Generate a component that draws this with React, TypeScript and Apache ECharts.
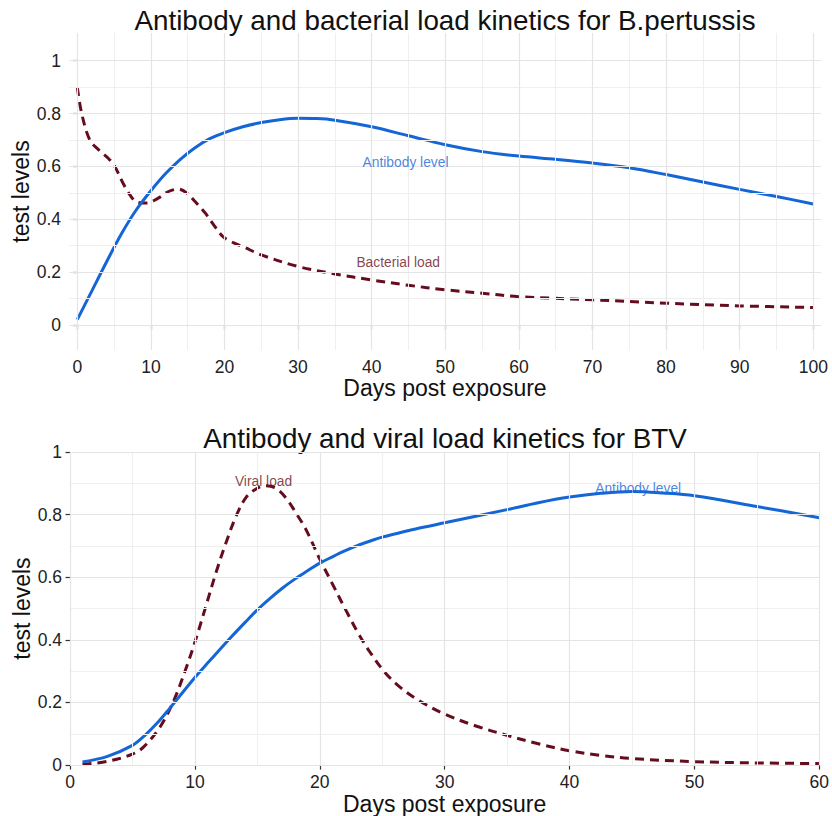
import React, { useEffect, useRef } from "react";
import * as echarts from "echarts";

// ---------- Panel 1: B.pertussis ----------
const bpTitle = "Antibody and bacterial load kinetics for B.pertussis";
const bpAntibodyDays = [0, 2, 4, 6, 8, 10, 12, 14, 16, 18, 20, 22.5, 25, 27.5, 30, 32.5, 35, 40, 45, 50, 55, 60, 65, 70, 75, 80, 85, 90, 95, 100];
const bpAntibodyLevel = [0.02, 0.13, 0.24, 0.345, 0.435, 0.508, 0.573, 0.627, 0.671, 0.705, 0.728, 0.75, 0.766, 0.777, 0.782, 0.781, 0.775, 0.75, 0.716, 0.682, 0.656, 0.639, 0.627, 0.613, 0.595, 0.569, 0.541, 0.513, 0.486, 0.458];
const bpBacterialDays = [0, 0.6, 1.7, 3, 4.2, 5.1, 6.2, 7.2, 8.1, 9.4, 11, 12.4, 13.7, 14.9, 16, 17.4, 18.7, 19.8, 21, 22.6, 25, 30, 35, 40, 45, 50, 55, 60, 70, 80, 90, 100];
const bpBacterialLoad = [0.9, 0.8, 0.7, 0.66, 0.631, 0.6, 0.537, 0.49, 0.465, 0.461, 0.48, 0.505, 0.514, 0.499, 0.467, 0.423, 0.372, 0.334, 0.314, 0.295, 0.265, 0.221, 0.193, 0.17, 0.15, 0.133, 0.12, 0.107, 0.095, 0.082, 0.072, 0.066];
const bpXTicks = [0, 10, 20, 30, 40, 50, 60, 70, 80, 90, 100];
const bpXMinor = [5, 15, 25, 35, 45, 55, 65, 75, 85, 95];
const bpYTicks = [0, 0.2, 0.4, 0.6, 0.8, 1];
const bpYMinor = [0.1, 0.3, 0.5, 0.7, 0.9];
const bpLabels = [
  { name: "Antibody level", x: 44.6, y: 0.615, color: "#1a66d6" },
  { name: "Bacterial load", x: 43.6, y: 0.2375, color: "#681122" },
];

// ---------- Panel 2: BTV ----------
const btvTitle = "Antibody and viral load kinetics for BTV";
const btvAntibodyDays = [1, 3, 5, 6, 7, 8, 9, 10, 11, 12, 13, 14, 15, 16, 17, 18, 19, 20, 21, 22, 23, 24, 25, 26.4, 28, 30, 35, 37.5, 40, 42.5, 45, 47.5, 50, 55, 60];
const btvAntibodyLevel = [0.01, 0.028, 0.063, 0.095, 0.135, 0.182, 0.231, 0.28, 0.325, 0.369, 0.413, 0.455, 0.496, 0.532, 0.565, 0.594, 0.62, 0.645, 0.665, 0.684, 0.701, 0.715, 0.728, 0.742, 0.757, 0.774, 0.816, 0.838, 0.856, 0.868, 0.874, 0.869, 0.86, 0.826, 0.79];
const btvViralDays = [1, 3, 5, 5.9, 7.2, 8.3, 9.3, 10.1, 10.9, 11.7, 12.5, 13.3, 14.1, 14.9, 15.7, 16.5, 17.3, 18.1, 18.9, 20, 21.1, 22.1, 23.1, 24, 25.2, 26.4, 28, 30, 32.5, 35, 37.5, 40, 42.5, 45, 50, 55, 60];
const btvViralLoad = [0.002, 0.012, 0.035, 0.058, 0.121, 0.205, 0.31, 0.405, 0.51, 0.616, 0.711, 0.795, 0.855, 0.882, 0.892, 0.884, 0.853, 0.805, 0.752, 0.658, 0.572, 0.494, 0.42, 0.362, 0.297, 0.25, 0.205, 0.163, 0.125, 0.095, 0.068, 0.046, 0.031, 0.021, 0.011, 0.007, 0.005];
const btvXTicks = [0, 10, 20, 30, 40, 50, 60];
const btvXMinor = [5, 15, 25, 35, 45, 55];
const btvYTicks = [0, 0.2, 0.4, 0.6, 0.8, 1];
const btvYMinor = [0.1, 0.3, 0.5, 0.7, 0.9];
const btvLabels = [
  { name: "Viral load", x: 15.5, y: 0.907, color: "#681122" },
  { name: "Antibody level", x: 45.5, y: 0.885, color: "#1a66d6" },
];

const xName = "Days post exposure";
const yName = "test levels";

const FONT = "'Liberation Sans', Arial, Helvetica, sans-serif";
const BLUE = "#1466d6";
const MAROON = "#650d1f";
const MAJOR = "#e4e4e4";
const MINOR = "#efefef";

const pairs = (xs: number[], ys: number[]) => xs.map((x, i) => [x, ys[i]]);

function gridSeries(idx: number, xMaj: number[], xMin: number[], yMaj: number[], yMin: number[]) {
  const data: any[] = [];
  xMin.forEach((v) => data.push({ xAxis: v, lineStyle: { color: MINOR, width: 1, type: "solid" } }));
  yMin.forEach((v) => data.push({ yAxis: v, lineStyle: { color: MINOR, width: 1, type: "solid" } }));
  xMaj.forEach((v) => data.push({ xAxis: v, lineStyle: { color: MAJOR, width: 1.2, type: "solid" } }));
  yMaj.forEach((v) => data.push({ yAxis: v, lineStyle: { color: MAJOR, width: 1.2, type: "solid" } }));
  return {
    type: "line",
    xAxisIndex: idx,
    yAxisIndex: idx,
    data: [],
    z: 1,
    silent: true,
    markLine: {
      silent: true,
      symbol: ["none", "none"],
      label: { show: false },
      animation: false,
      data,
    },
  };
}

function labelSeries(idx: number, labels: { name: string; x: number; y: number; color: string }[]) {
  return {
    type: "scatter",
    xAxisIndex: idx,
    yAxisIndex: idx,
    symbolSize: 1,
    itemStyle: { color: "transparent" },
    silent: true,
    z: 5,
    data: labels.map((l) => ({
      value: [l.x, l.y],
      name: l.name,
      label: {
        show: true,
        position: "inside",
        formatter: "{b}",
        color: l.color,
        fontSize: 13.8,
        fontFamily: FONT,
      },
    })),
  };
}

function xAxisCfg(idx: number, min: number, max: number, ticks: number[], gap: number) {
  return {
    type: "value",
    gridIndex: idx,
    min,
    max,
    axisLine: { show: false },
    splitLine: { show: false },
    minorSplitLine: { show: false },
    axisTick: { show: true, length: 4.5, customValues: ticks, lineStyle: { color: "#333", width: 1.2 } },
    axisLabel: { customValues: ticks, color: "#222", fontSize: 17.5, fontFamily: FONT, margin: 8 },
    name: xName,
    nameLocation: "middle",
    nameGap: gap,
    nameTextStyle: { color: "#111", fontSize: 23, fontFamily: FONT },
  };
}

function yAxisCfg(idx: number, min: number, max: number, ticks: number[]) {
  return {
    type: "value",
    gridIndex: idx,
    min,
    max,
    axisLine: { show: false },
    splitLine: { show: false },
    minorSplitLine: { show: false },
    axisTick: { show: true, length: 4.5, customValues: ticks, lineStyle: { color: "#333", width: 1.2 } },
    axisLabel: { customValues: ticks, color: "#222", fontSize: 17.5, fontFamily: FONT, margin: 8 },
    name: yName,
    nameLocation: "middle",
    nameGap: 37,
    nameMoveOverlap: false,
    nameTextStyle: { color: "#111", fontSize: 23, fontFamily: FONT },
  };
}

function curve(name: string, idx: number, data: number[][], color: string, dashed: boolean) {
  return {
    name,
    type: "line",
    xAxisIndex: idx,
    yAxisIndex: idx,
    data,
    showSymbol: false,
    smooth: 0.35,
    z: dashed ? 3 : 4,
    lineStyle: { color, width: 3, type: dashed ? [9, 6] : "solid", cap: "butt", join: "round" },
  };
}

export default function App() {
  const ref = useRef<HTMLDivElement>(null);
  useEffect(() => {
    const chart = echarts.init(ref.current!, null, { renderer: "svg" });
    const option: any = {
      animation: false,
      backgroundColor: "#ffffff",
      textStyle: { fontFamily: FONT },
      graphic: [
        {
          type: "text",
          x: 445,
          y: 20,
          silent: true,
          style: { text: bpTitle, fontSize: 27.8, fontFamily: FONT, fill: "#111", align: "center", verticalAlign: "middle" },
        },
        {
          type: "text",
          x: 445,
          y: 438,
          silent: true,
          style: { text: btvTitle, fontSize: 27.8, fontFamily: FONT, fill: "#111", align: "center", verticalAlign: "middle" },
        },
      ],
      grid: [
        { left: 69, right: 11, top: 33, height: 317, containLabel: false },
        { left: 70, right: 12, top: 452, height: 316.5, containLabel: false },
      ],
      xAxis: [xAxisCfg(0, -1.128, 101.05, bpXTicks, 24), xAxisCfg(1, 0, 60, btvXTicks, 25)],
      yAxis: [yAxisCfg(0, -0.095, 1.105, bpYTicks), yAxisCfg(1, 0, 1, btvYTicks)],
      series: [
        gridSeries(0, bpXTicks, bpXMinor, bpYTicks, bpYMinor),
        gridSeries(1, btvXTicks, btvXMinor, btvYTicks, btvYMinor),
        curve("Bacterial load", 0, pairs(bpBacterialDays, bpBacterialLoad), MAROON, true),
        curve("Antibody level", 0, pairs(bpAntibodyDays, bpAntibodyLevel), BLUE, false),
        curve("Viral load", 1, pairs(btvViralDays, btvViralLoad), MAROON, true),
        curve("Antibody level BTV", 1, pairs(btvAntibodyDays, btvAntibodyLevel), BLUE, false),
        labelSeries(0, bpLabels),
        labelSeries(1, btvLabels),
      ],
    };
    chart.setOption(option);
    return () => chart.dispose();
  }, []);
  return (
    <div
      ref={ref}
      style={{ position: "absolute", left: 0, top: 0, width: 832, height: 816, background: "#fff" }}
    />
  );
}
